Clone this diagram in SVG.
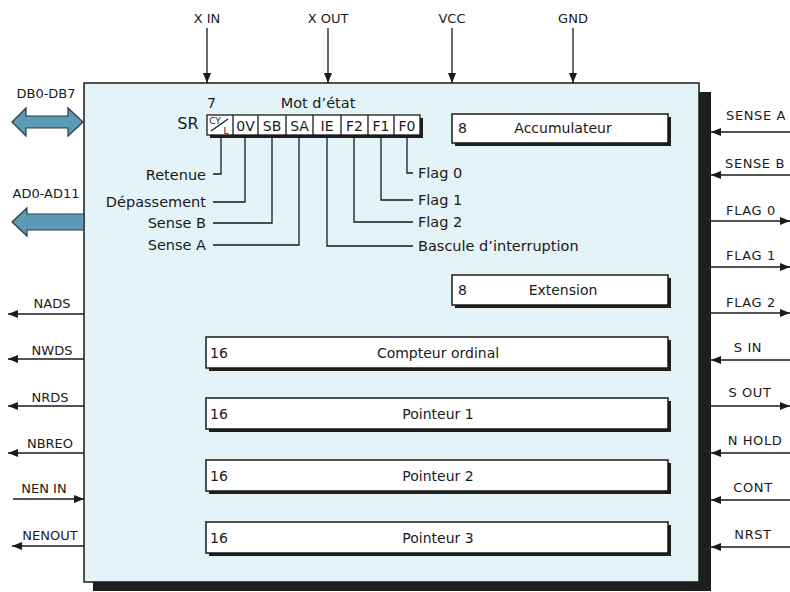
<svg xmlns="http://www.w3.org/2000/svg" width="790" height="592" viewBox="0 0 790 592">
<style>
text{font-family:"DejaVu Sans","Liberation Sans",sans-serif;fill:#1a1a1a}
.lbl{font-size:14.5px}
.sig{font-size:13px}
.rsig{font-size:13px;letter-spacing:0.6px}
.reg{font-size:14px}
.cell{font-size:14px;text-anchor:middle}
.wire{stroke:#1a1a1a;stroke-width:1.3;fill:none}
.reg-box{fill:#ffffff;stroke:#1a1a1a;stroke-width:1.5}
.shadow{fill:#1e1e1e}
.bus{fill:#5c9bb6;stroke:#2a3a40;stroke-width:1.2}
</style>
<defs>
<marker id="ah" viewBox="0 0 10 8" refX="10" refY="4" markerWidth="10" markerHeight="8" markerUnits="userSpaceOnUse" orient="auto">
<path d="M0,0 L10,4 L0,8 z" fill="#1a1a1a"/>
</marker>
</defs>
<rect width="790" height="592" fill="#ffffff"/>

<g id="chip">
<rect class="shadow" x="93" y="92" width="618" height="499"/>
<rect x="84" y="83" width="615" height="499" fill="#e4f3f7" stroke="#1a1a1a" stroke-width="1.5"/>
</g>

<g id="status-register">
<text x="188" y="129" text-anchor="middle" font-size="16">SR</text>
<text x="207" y="108" font-size="14">7</text>
<text x="318" y="108" class="lbl" text-anchor="middle">Mot d’état</text>
<rect class="shadow" x="210" y="118" width="213" height="20"/>
<rect x="207" y="115" width="213" height="20" fill="#fff" stroke="#1a1a1a" stroke-width="1.3"/>
<g class="wire">
<line x1="233" y1="115" x2="233" y2="135"/>
<line x1="258" y1="115" x2="258" y2="135"/>
<line x1="286" y1="115" x2="286" y2="135"/>
<line x1="313" y1="115" x2="313" y2="135"/>
<line x1="341" y1="115" x2="341" y2="135"/>
<line x1="368" y1="115" x2="368" y2="135"/>
<line x1="394" y1="115" x2="394" y2="135"/>
<line x1="211" y1="131" x2="228" y2="119"/>
</g>
<text x="215" y="124" font-size="9" text-anchor="middle">CY</text>
<text x="226" y="134" font-size="9" text-anchor="middle">L</text>
<text x="245.5" y="130.5" class="cell">0V</text>
<text x="272" y="130.5" class="cell">SB</text>
<text x="299.5" y="130.5" class="cell">SA</text>
<text x="327" y="130.5" class="cell">IE</text>
<text x="354.5" y="130.5" class="cell">F2</text>
<text x="381" y="130.5" class="cell">F1</text>
<text x="407" y="130.5" class="cell">F0</text>
</g>

<g id="flag-labels">
<text x="206" y="180" class="lbl" text-anchor="end">Retenue</text>
<text x="206" y="207" class="lbl" text-anchor="end">Dépassement</text>
<text x="206" y="228" class="lbl" text-anchor="end">Sense B</text>
<text x="206" y="250" class="lbl" text-anchor="end">Sense A</text>
<text x="418" y="178" class="lbl">Flag 0</text>
<text x="418" y="205" class="lbl">Flag 1</text>
<text x="418" y="227" class="lbl">Flag 2</text>
<text x="418" y="251" class="lbl">Bascule d’interruption</text>
</g>

<g id="accumulateur">
<rect class="shadow" x="455" y="117" width="216" height="29"/>
<rect class="reg-box" x="452" y="114" width="216" height="29"/>
<text x="458" y="133" class="reg">8</text>
<text x="563" y="133" class="reg" text-anchor="middle">Accumulateur</text>
</g>
<g id="extension">
<rect class="shadow" x="455" y="278" width="216" height="30"/>
<rect class="reg-box" x="452" y="275" width="216" height="30"/>
<text x="458" y="295" class="reg">8</text>
<text x="563" y="295" class="reg" text-anchor="middle">Extension</text>
</g>
<g id="compteur-ordinal">
<rect class="shadow" x="209" y="340" width="462" height="31"/>
<rect class="reg-box" x="206" y="337" width="462" height="31"/>
<text x="210" y="358" class="reg">16</text>
<text x="438" y="358" class="reg" text-anchor="middle">Compteur ordinal</text>
</g>
<g id="pointeur1">
<rect class="shadow" x="209" y="401" width="462" height="31"/>
<rect class="reg-box" x="206" y="398" width="462" height="31"/>
<text x="210" y="419" class="reg">16</text>
<text x="438" y="419" class="reg" text-anchor="middle">Pointeur  1</text>
</g>
<g id="pointeur2">
<rect class="shadow" x="209" y="463" width="462" height="31"/>
<rect class="reg-box" x="206" y="460" width="462" height="31"/>
<text x="210" y="481" class="reg">16</text>
<text x="438" y="481" class="reg" text-anchor="middle">Pointeur  2</text>
</g>
<g id="pointeur3">
<rect class="shadow" x="209" y="525" width="462" height="31"/>
<rect class="reg-box" x="206" y="522" width="462" height="31"/>
<text x="210" y="543" class="reg">16</text>
<text x="438" y="543" class="reg" text-anchor="middle">Pointeur  3</text>
</g>

<g id="buses">
<polygon class="bus" points="12,122 26,108 26,116 68,116 68,108 83,122 68,136 68,128 26,128 26,136"/>
<polygon class="bus" points="12,222 27,208 27,214 84,214 84,230 27,230 27,236"/>
<text x="46" y="98" class="sig" text-anchor="middle">DB0-DB7</text>
<text x="46" y="198" class="sig" text-anchor="middle">AD0-AD11</text>
</g>

<g id="connectors">
<g class="wire">
<line x1="207" y1="28" x2="207" y2="83" marker-end="url(#ah)"/>
<line x1="328" y1="28" x2="328" y2="83" marker-end="url(#ah)"/>
<line x1="452" y1="28" x2="452" y2="83" marker-end="url(#ah)"/>
<line x1="573" y1="28" x2="573" y2="83" marker-end="url(#ah)"/>
<line x1="84" y1="314" x2="8" y2="314" marker-end="url(#ah)"/>
<line x1="84" y1="359" x2="8" y2="359" marker-end="url(#ah)"/>
<line x1="84" y1="406" x2="8" y2="406" marker-end="url(#ah)"/>
<line x1="84" y1="453" x2="8" y2="453" marker-end="url(#ah)"/>
<line x1="13" y1="499" x2="84" y2="499" marker-end="url(#ah)"/>
<line x1="84" y1="546" x2="12" y2="546" marker-end="url(#ah)"/>
<line x1="790" y1="132" x2="711" y2="132" marker-end="url(#ah)"/>
<line x1="790" y1="175" x2="711" y2="175" marker-end="url(#ah)"/>
<line x1="711" y1="221" x2="790" y2="221" marker-end="url(#ah)"/>
<line x1="711" y1="267" x2="790" y2="267" marker-end="url(#ah)"/>
<line x1="711" y1="313" x2="790" y2="313" marker-end="url(#ah)"/>
<line x1="790" y1="360" x2="711" y2="360" marker-end="url(#ah)"/>
<line x1="711" y1="406" x2="790" y2="406" marker-end="url(#ah)"/>
<line x1="790" y1="453" x2="711" y2="453" marker-end="url(#ah)"/>
<line x1="790" y1="500" x2="711" y2="500" marker-end="url(#ah)"/>
<line x1="790" y1="547" x2="711" y2="547" marker-end="url(#ah)"/>
<polyline points="221,135 221,174 213,174"/>
<polyline points="245,135 245,202 213,202"/>
<polyline points="272,135 272,223 213,223"/>
<polyline points="299,135 299,245 213,245"/>
<polyline points="407,135 407,173 413,173"/>
<polyline points="381,135 381,200 413,200"/>
<polyline points="354,135 354,222 413,222"/>
<polyline points="327,135 327,246 413,246"/>
</g>
</g>

<g id="pin-labels">
<text x="207" y="23" class="sig" text-anchor="middle">X IN</text>
<text x="328" y="23" class="sig" text-anchor="middle">X OUT</text>
<text x="452" y="23" class="sig" text-anchor="middle">VCC</text>
<text x="573" y="23" class="sig" text-anchor="middle">GND</text>
<text x="52" y="308" class="sig" text-anchor="middle">NADS</text>
<text x="52" y="355" class="sig" text-anchor="middle">NWDS</text>
<text x="50" y="402" class="sig" text-anchor="middle">NRDS</text>
<text x="50" y="448" class="sig" text-anchor="middle">NBREO</text>
<text x="44" y="493" class="sig" text-anchor="middle">NEN IN</text>
<text x="50" y="540" class="sig" text-anchor="middle">NENOUT</text>
<text x="756" y="120" class="rsig" text-anchor="middle">SENSE A</text>
<text x="755" y="168" class="rsig" text-anchor="middle">SENSE B</text>
<text x="751" y="215" class="rsig" text-anchor="middle">FLAG 0</text>
<text x="751" y="260" class="rsig" text-anchor="middle">FLAG 1</text>
<text x="751" y="307" class="rsig" text-anchor="middle">FLAG 2</text>
<text x="748" y="352" class="rsig" text-anchor="middle">S IN</text>
<text x="750" y="397" class="rsig" text-anchor="middle">S OUT</text>
<text x="755" y="445" class="rsig" text-anchor="middle">N HOLD</text>
<text x="753" y="492" class="rsig" text-anchor="middle">CONT</text>
<text x="753" y="539" class="rsig" text-anchor="middle">NRST</text>
</g>
</svg>
